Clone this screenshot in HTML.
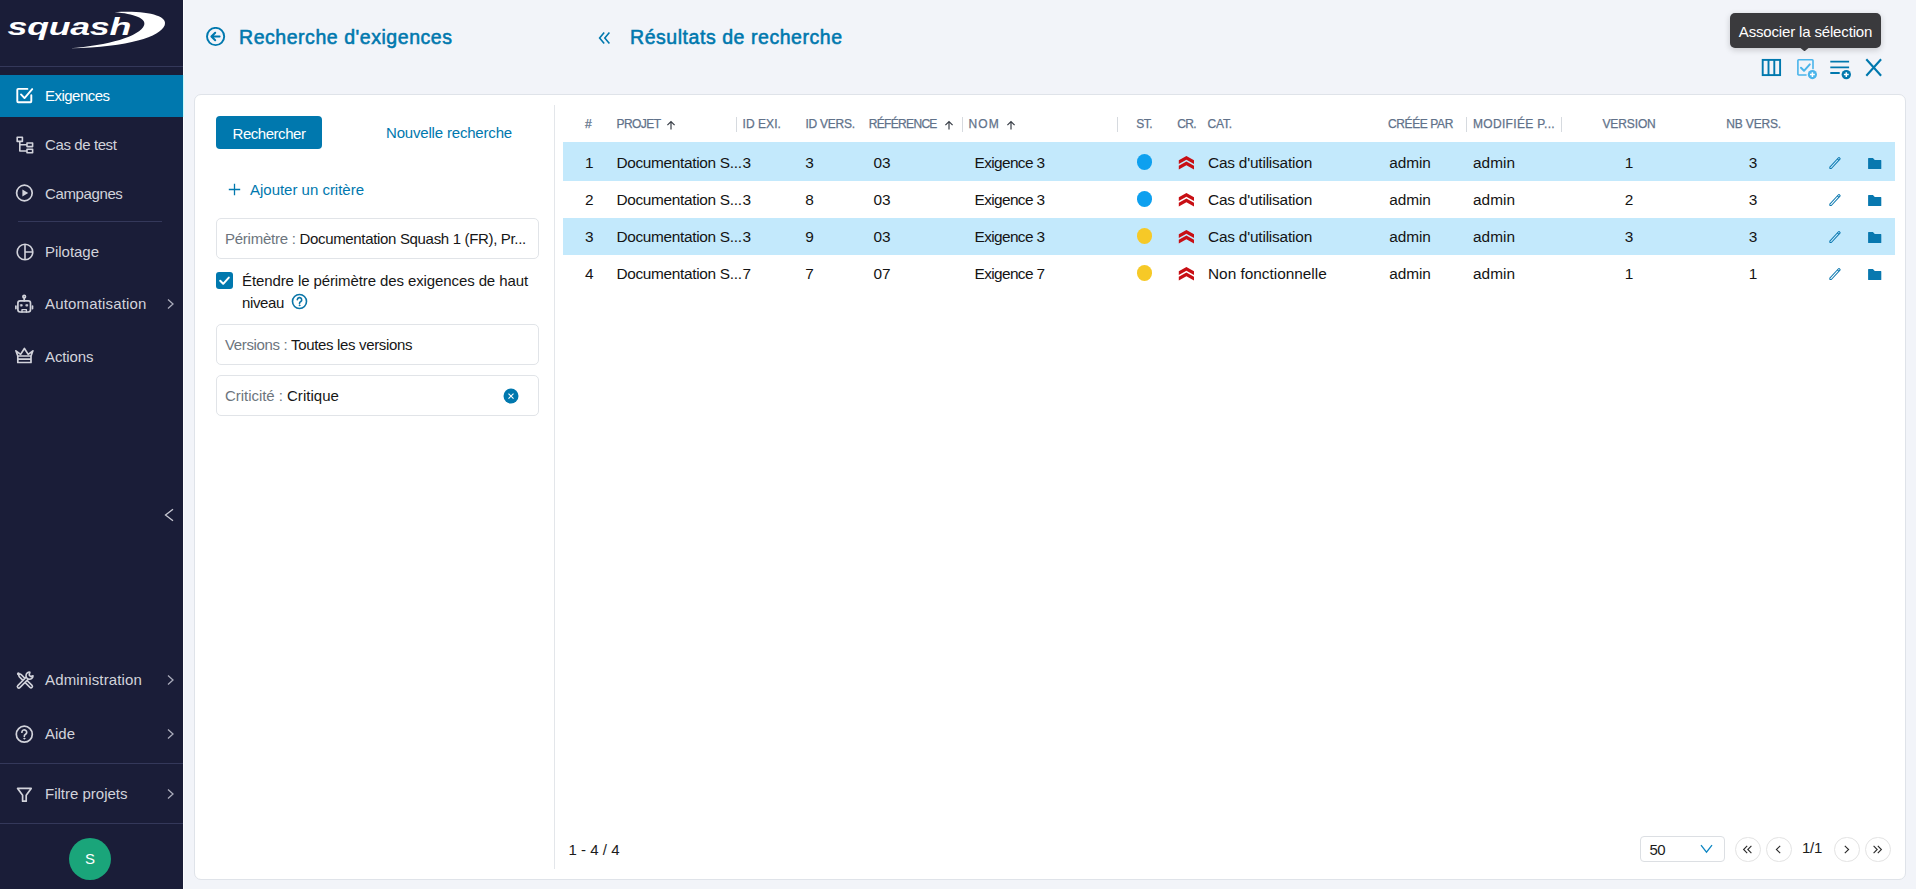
<!DOCTYPE html>
<html lang="fr">
<head>
<meta charset="utf-8">
<title>Squash - Recherche d'exigences</title>
<style>
*{box-sizing:border-box;margin:0;padding:0}
html,body{width:1916px;height:889px;overflow:hidden}
body{font-family:"Liberation Sans",sans-serif;font-size:14px;color:#161616;background:#f2f4f9;position:relative}
.abs{position:absolute}
svg{display:block}
/* ---------- sidebar ---------- */
#side{position:absolute;left:0;top:0;width:183px;height:889px;background:#1a1d38;color:#d2d3db}
#side .hr{position:absolute;height:1px;background:#34385a}
#side .item{position:absolute;left:0;width:183px;height:42px;font-size:15px;line-height:42px;white-space:nowrap}
#side .item.active{background:#0078ae;color:#fff}
#side .item .ic{position:absolute;left:15px;top:11px;width:20px;height:20px}
#side .item .lb{position:absolute;left:45px;top:0}
#side .item .ch{position:absolute;left:166px;top:15px;width:9px;height:12px}
#avatar{position:absolute;left:69px;top:838px;width:42px;height:42px;border-radius:50%;background:#1aa57a;color:#fff;font-size:15px;line-height:42px;text-align:center}
/* ---------- main ---------- */
.title{position:absolute;font-size:19.500px;font-weight:normal;-webkit-text-stroke:.55px #0078ae;color:#0078ae;white-space:nowrap;line-height:26px}
#card{position:absolute;left:194px;top:94px;width:1712px;height:786px;background:#fff;border:1px solid #dfe3e9;border-radius:7px}
#vsep{position:absolute;left:554px;top:105px;width:1px;height:764px;background:#e3e6ea}
.blue{color:#0078ae}
#btn{position:absolute;left:216px;top:116px;width:106px;height:33px;border-radius:4px;background:#0078ae;color:#fff;font-size:15px;line-height:33px;text-align:center}
.field{position:absolute;left:216px;width:323px;height:41px;border:1px solid #e1e4e8;border-radius:5px;background:#fff;line-height:39px;padding-left:8px;font-size:15px;white-space:nowrap;overflow:hidden}
.field .k{color:#6c757d}
.t{position:absolute;white-space:nowrap;line-height:20px}
/* ---------- table ---------- */
.row{position:absolute;left:563px;width:1332px}
.row.sel{background:#c3e9fc}
.th{position:absolute;top:114px;font-size:12px;line-height:20px;color:#61728a;-webkit-text-stroke:.25px #61728a;white-space:nowrap}
.td{position:absolute;font-size:15.400px;line-height:20px;white-space:nowrap;color:#141414}
.cs{position:absolute;top:116.500px;width:1px;height:15px;background:#d6dadf}
.dot{position:absolute;width:15.600px;height:15.600px;border-radius:50%}
/* ---------- footer ---------- */
.pg{position:absolute;top:836.500px;width:25.500px;height:25.500px;border:1px solid #e3e3e3;border-radius:50%;background:#fff}
/*FIT*/
#s0{letter-spacing:-0.524px}
#s1{letter-spacing:-0.398px}
#s2{letter-spacing:-0.377px}
#s3{letter-spacing:-0.027px}
#s4{letter-spacing:0.162px}
#s5{letter-spacing:-0.100px}
#s6{letter-spacing:0.140px}
#s7{letter-spacing:-0.008px}
#s8{letter-spacing:-0.002px}
#t1{letter-spacing:0.543px}
#bt{letter-spacing:-0.455px}
#nr{letter-spacing:-0.181px}
#aj{letter-spacing:-0.013px}
#cb1{letter-spacing:-0.100px}
#cb2{letter-spacing:-0.367px}
#f2{letter-spacing:-0.345px}
#f3{letter-spacing:0.039px}
#t2{letter-spacing:0.549px}
#k1{letter-spacing:-0.253px}
#f1{letter-spacing:-0.330px}
#k2{letter-spacing:-0.361px}
#k3{letter-spacing:-0.043px}
.c1{letter-spacing:-0.311px}
.c5{letter-spacing:-0.616px}
.c6{letter-spacing:-0.195px}
.c7{letter-spacing:-0.104px}
.c8{letter-spacing:0.016px}
#h1{letter-spacing:-0.574px}
#h2{letter-spacing:0.069px}
#h3{letter-spacing:-0.245px}
#h4{letter-spacing:-0.680px}
#h5{letter-spacing:1.167px}
#h6{letter-spacing:-0.448px}
#h7{letter-spacing:-0.657px}
#h8{letter-spacing:-0.181px}
#h9{letter-spacing:-0.385px}
#h10{letter-spacing:0.323px}
#h11{letter-spacing:-0.102px}
#h12{letter-spacing:-0.164px}
#cnt{letter-spacing:0.016px}
#ps{letter-spacing:-0.644px}
#pp{letter-spacing:-0.286px}
#tp{letter-spacing:-0.159px}
.c6.r3{letter-spacing:-0.014px}
/*ENDFIT*/
</style>
</head>
<body>
<div id="side">
  <svg class="abs" style="left:0;top:0" width="183" height="66" viewBox="0 0 183 66">
    <path d="M114.600 12.200C146 10.200 169 15.500 164.600 25.500C160 36.500 130 47 69.700 48.300C108 45.500 140 36.500 144.200 25C146.500 18.500 134 13.500 114.600 12.200Z" fill="#fff"/>
    <text x="0" y="0" transform="translate(7.600 34.900) scale(1.490 1)" font-family="'Liberation Sans',sans-serif" font-style="italic" font-weight="bold" font-size="24" fill="#fff" letter-spacing="-0.200">squash</text>
  </svg>
  <div class="hr" style="left:0;top:66px;width:183px"></div>

  <div class="item active" style="top:75px">
    <svg class="ic" viewBox="0 0 20 20" fill="none" stroke="#fff" stroke-width="1.900" stroke-linecap="round" stroke-linejoin="round"><path d="M12.400 2.900H3.200a.9.900 0 0 0-.9.900v11.500a.9.900 0 0 0 .9.900h12.200a.9.900 0 0 0 .9-.9V9.200"/><path d="M6 8.400l3.500 3.700 7.700-9"/></svg>
    <span class="lb" id="s0">Exigences</span>
  </div>
  <div class="item" style="top:124px">
    <svg class="ic" viewBox="0 0 20 20" fill="none" stroke="#d2d3db" stroke-width="1.6" stroke-linejoin="round"><rect x="2.2" y="2.2" width="5.2" height="4.2"/><rect x="12" y="8" width="5.6" height="3.6"/><rect x="12" y="14.2" width="5.6" height="3.6"/><path d="M4.8 6.4V16H12M4.8 9.8H12"/></svg>
    <span class="lb" id="s1">Cas de test</span>
  </div>
  <div class="item" style="top:173px">
    <svg class="ic" viewBox="0 0 20 20" fill="none" stroke="#d2d3db" stroke-width="1.700"><circle cx="9.400" cy="9" r="7.800"/><path d="M7.400 5.500v7l5.800-3.500z" fill="#d2d3db" stroke="none"/></svg>
    <span class="lb" id="s2">Campagnes</span>
  </div>
  <div class="hr" style="left:18px;top:221px;width:144px"></div>
  <div class="item" style="top:231px">
    <svg class="ic" viewBox="0 0 20 20" fill="none" stroke="#d2d3db" stroke-width="1.6"><circle cx="10" cy="10" r="7.8"/><path d="M10 2.2v15.6M10 10h7.8"/></svg>
    <span class="lb" id="s3">Pilotage</span>
  </div>
  <div class="item" style="top:282.500px">
    <svg class="ic" viewBox="0 0 20 20" fill="none" stroke="#d2d3db" stroke-width="1.700" stroke-linecap="round" stroke-linejoin="round"><circle cx="9.200" cy="2.700" r="1.300"/><path d="M9.200 4v2.800"/><rect x="2.900" y="6.800" width="12.600" height="11.200" rx="2.200"/><path d="M.9 12v2.600M17.500 12v2.600"/><rect x="5.700" y="10.600" width="1.500" height="1.500" fill="#d2d3db" stroke-width=".7"/><rect x="11.200" y="10.600" width="1.500" height="1.500" fill="#d2d3db" stroke-width=".7"/><path d="M7 18v-2.400h4.400V18" stroke-width="1.400"/></svg>
    <span class="lb" id="s4">Automatisation</span>
    <svg class="ch" viewBox="0 0 9 12" fill="none" stroke="#a9abba" stroke-width="1.3"><path d="M2 1.5l5 4.5-5 4.5"/></svg>
  </div>
  <div class="item" style="top:336px">
    <svg class="ic" viewBox="0 0 20 20" fill="none" stroke="#d2d3db" stroke-width="1.700" stroke-linejoin="round"><path d="M2.800 9L.9 3.800l4.700 3.600L9.400 1.500l3.800 5.900 4.700-3.600L16 9"/><path d="M2.800 9h13.200v6.500H2.800zM2.800 12.200h13.200"/></svg>
    <span class="lb" id="s5">Actions</span>
  </div>

  <svg class="abs" style="left:163px;top:508px" width="12" height="14" viewBox="0 0 12 14" fill="none" stroke="#c9cad4" stroke-width="1.3"><path d="M10 1.2L2.5 7l7.5 5.8"/></svg>

  <div class="item" style="top:658.500px">
    <svg class="ic" viewBox="0 0 20 20" fill="none" stroke-linecap="round" stroke-linejoin="round"><path d="M5.200 5.600L16 16.400" stroke="#d2d3db" stroke-width="4.400"/><path d="M5.200 5.600L16 16.400" stroke="#1a1d38" stroke-width="1.300"/><circle cx="3.400" cy="3.800" r="1.500" fill="#d2d3db"/><path d="M3.800 16.600L13 7.400" stroke="#d2d3db" stroke-width="4.400"/><path d="M3.800 16.600L12.600 7.800" stroke="#1a1d38" stroke-width="1.300"/><path d="M14.900 2.200a3.500 3.500 0 1 0 3.100 3.700l-2.500.6-1.300-1.500z" stroke="#d2d3db" stroke-width="1.600" fill="#1a1d38"/></svg>
    <span class="lb" id="s6">Administration</span>
    <svg class="ch" viewBox="0 0 9 12" fill="none" stroke="#a9abba" stroke-width="1.3"><path d="M2 1.500l5 4.500-5 4.500"/></svg>
  </div>
  <div class="item" style="top:712.500px">
    <svg class="ic" viewBox="0 0 20 20" fill="none" stroke="#d2d3db" stroke-width="1.700" stroke-linecap="round"><circle cx="9.300" cy="10.200" r="8"/><path d="M6.900 8.200a2.400 2.400 0 1 1 3.600 2.100c-.8.500-1.200.9-1.200 1.900"/><circle cx="9.300" cy="14.600" r=".6" fill="#d2d3db" stroke-width=".8"/></svg>
    <span class="lb" id="s7">Aide</span>
    <svg class="ch" viewBox="0 0 9 12" fill="none" stroke="#a9abba" stroke-width="1.3"><path d="M2 1.500l5 4.500-5 4.500"/></svg>
  </div>
  <div class="hr" style="left:0;top:763px;width:183px"></div>
  <div class="item" style="top:772.500px">
    <svg class="ic" viewBox="0 0 20 20" fill="none" stroke="#d2d3db" stroke-width="1.700" stroke-linejoin="round"><path d="M2.600 4.400h13.600l-5 6.800v6h-3.600v-6z"/></svg>
    <span class="lb" id="s8">Filtre projets</span>
    <svg class="ch" viewBox="0 0 9 12" fill="none" stroke="#a9abba" stroke-width="1.300"><path d="M2 1.500l5 4.500-5 4.500"/></svg>
  </div>
  <div class="hr" style="left:0;top:823px;width:183px"></div>
  <div id="avatar">S</div>
</div>
<div class="abs" id="strip" style="left:183px;top:0;width:1px;height:889px;background:#fcfdff"></div>
<div class="abs" style="left:183px;top:75px;width:1px;height:42px;background:#c9fbfb"></div>
<!-- header titles -->
<svg class="abs" style="left:205px;top:27px" width="21" height="21" viewBox="0 0 21 21" fill="none" stroke="#0078ae" stroke-width="1.900" stroke-linecap="round" stroke-linejoin="round"><circle cx="10.600" cy="9.500" r="8.600"/><path d="M14.600 9.500H6.800M10.200 5.700L6.400 9.500l3.800 3.800" stroke-width="2"/></svg>
<div class="title" id="t1" style="left:239px;top:24px">Recherche d'exigences</div>
<svg class="abs" style="left:598px;top:31px" width="13" height="14" viewBox="0 0 13 14" fill="none" stroke="#0078ae" stroke-width="1.600"><path d="M6.200 1.500L1.600 7l4.600 5.500M11.400 1.500L6.800 7l4.600 5.500"/></svg>
<div class="title" id="t2" style="left:630px;top:24px">Résultats de recherche</div>

<!-- tooltip -->
<div class="abs" id="tip" style="left:1730px;top:13px;width:151px;height:35px;border-radius:5px;background:#3a3a3d;color:#fff;font-size:15px;line-height:38px;text-align:center;white-space:nowrap;box-shadow:0 2px 6px rgba(0,0,0,.18)"><span id="tp">Associer la sélection</span></div>
<svg class="abs" style="left:1800px;top:48px" width="9" height="4" viewBox="0 0 9 4"><path d="M.5 0h8L5.200 2.700a1.100 1.100 0 0 1-1.400 0z" fill="#3a3a3d"/></svg>

<!-- toolbar icons -->
<svg class="abs" style="left:1761px;top:58px" width="21" height="20" viewBox="0 0 21 20" fill="none" stroke="#0078ae" stroke-width="1.900"><rect x="1.700" y="1.900" width="17.400" height="15.200"/><path d="M7.500 1.900v15.200M13.300 1.900v15.200"/></svg>
<svg class="abs" style="left:1796px;top:58px" width="23" height="23" viewBox="0 0 23 23" fill="none" stroke="#4ab4ea" stroke-width="1.600" stroke-linecap="round" stroke-linejoin="round"><path d="M10 17H2.700a.8.800 0 0 1-.8-.8V2.600a.8.800 0 0 1 .8-.8h13.500a.8.800 0 0 1 .8.800v8"/><path d="M5 9.800l3 3 5.800-6.400" stroke-width="2"/><circle cx="16.400" cy="16.600" r="4.600" fill="#4ab4ea" stroke="none"/><path d="M16.400 14.200v4.800M14 16.600h4.800" stroke="#fff" stroke-width="1.500" stroke-linecap="butt"/></svg>
<svg class="abs" style="left:1829px;top:58px" width="23" height="23" viewBox="0 0 23 23" fill="none" stroke="#0078ae" stroke-width="1.800"><path d="M1.300 3.700h18.800M1.300 9.300h18.800M1.300 15h9.400"/><circle cx="17.300" cy="16.600" r="4.700" fill="#0078ae" stroke="none"/><path d="M17.300 14.200v4.800M14.900 16.600h4.800" stroke="#fff" stroke-width="1.500"/></svg>
<svg class="abs" style="left:1864px;top:58px" width="20" height="20" viewBox="0 0 20 20" fill="none" stroke="#0078ae" stroke-width="2.100"><path d="M2.300 1.200l14.800 16.600M17.100 1.200L2.300 17.800"/></svg>

<div id="card"></div>
<div id="vsep"></div>

<!-- left panel -->
<div id="btn"><span id="bt" style="position:relative;top:1px">Rechercher</span></div>
<div class="t blue" id="nr" style="left:386px;top:123px;font-size:15px">Nouvelle recherche</div>
<svg class="abs" style="left:228px;top:183px" width="13" height="13" viewBox="0 0 13 13" stroke="#0078ae" stroke-width="1.300"><path d="M6.500 .800v11.400M.8 6.500h11.400"/></svg>
<div class="t blue" id="aj" style="left:250px;top:180px;font-size:15px">Ajouter un critère</div>
<div class="field" style="top:218px"><span class="k" id="k1">Périmètre : </span><span id="f1">Documentation Squash 1 (FR), Pr...</span></div>
<div class="abs" style="left:216px;top:272px;width:17px;height:17px;border-radius:3px;background:#0078ae"></div>
<svg class="abs" style="left:216px;top:272px" width="17" height="17" viewBox="0 0 17 17" fill="none" stroke="#fff" stroke-width="2" stroke-linecap="round" stroke-linejoin="round"><path d="M4.200 8.800l3 3 5.600-6.200"/></svg>
<div class="t" id="cb1" style="left:242px;top:271px;font-size:15px">Étendre le périmètre des exigences de haut</div>
<div class="t" id="cb2" style="left:242px;top:293px;font-size:15px">niveau</div>
<svg class="abs" style="left:291px;top:293.300px" width="17" height="17" viewBox="0 0 17 17" fill="none" stroke="#0a75a8" stroke-width="1.600" stroke-linecap="round"><circle cx="8.500" cy="8.500" r="7"/><path d="M6.300 6.800a2.200 2.200 0 1 1 3.300 1.900c-.7.450-1.100.9-1.100 1.700"/><circle cx="8.500" cy="12.300" r=".5" fill="#0078ae" stroke-width=".8"/></svg>
<div class="field" style="top:324px"><span class="k" id="k2">Versions : </span><span id="f2">Toutes les versions</span></div>
<div class="field" style="top:375px"><span class="k" id="k3">Criticité : </span><span id="f3">Critique</span></div>
<svg class="abs" style="left:503.400px;top:388.450px" width="16" height="16" viewBox="0 0 16 16"><circle cx="8" cy="8" r="7.500" fill="#0078ae"/><path d="M5.500 5.600l5 5M10.500 5.600l-5 5" stroke="#fff" stroke-width="1.100"/></svg>
<div class="row sel" style="top:142px;height:39px"></div>
<div class="row" style="top:181px;height:37px"></div>
<div class="row sel" style="top:218px;height:37px"></div>
<div class="row" style="top:255px;height:37px"></div>
<div class="th" id="h0" style="left:585px">#</div>
<div class="th" id="h1" style="left:616.5px">PROJET</div>
<div class="th" id="h2" style="left:742.5px">ID EXI.</div>
<div class="th" id="h3" style="left:805.5px">ID VERS.</div>
<div class="th" id="h4" style="left:868.8px">RÉFÉRENCE</div>
<div class="th" id="h5" style="left:968.5px">NOM</div>
<div class="th" id="h6" style="left:1136.2px">ST.</div>
<div class="th" id="h7" style="left:1177.3px">CR.</div>
<div class="th" id="h8" style="left:1207.6px">CAT.</div>
<div class="th" id="h9" style="left:1388px">CRÉÉE PAR</div>
<div class="th" id="h10" style="left:1473px">MODIFIÉE P...</div>
<div class="th" id="h11" style="left:1602.4px">VERSION</div>
<div class="th" id="h12" style="left:1726.3px">NB VERS.</div>
<svg class="abs" style="left:666px;top:119.500px" width="10" height="10" viewBox="0 0 10 10" fill="none" stroke="#3a3f48" stroke-width="1.200"><path d="M5 9.500V1.700M1.400 5.200L5 1.600l3.600 3.600"/></svg>
<svg class="abs" style="left:943.5px;top:119.500px" width="10" height="10" viewBox="0 0 10 10" fill="none" stroke="#3a3f48" stroke-width="1.200"><path d="M5 9.500V1.700M1.400 5.200L5 1.600l3.600 3.600"/></svg>
<svg class="abs" style="left:1006px;top:119.500px" width="10" height="10" viewBox="0 0 10 10" fill="none" stroke="#3a3f48" stroke-width="1.200"><path d="M5 9.500V1.700M1.400 5.200L5 1.600l3.600 3.600"/></svg>
<div class="cs" style="left:736px"></div>
<div class="cs" style="left:962px"></div>
<div class="cs" style="left:1117px"></div>
<div class="cs" style="left:1466px"></div>
<div class="cs" style="left:1561px"></div>
<div class="td c0" style="left:585px;top:153px">1</div>
<div class="td c1" style="left:616.4px;top:153px">Documentation S...</div>
<div class="td c2" style="left:742.5px;top:153px">3</div>
<div class="td c3" style="left:805.3px;top:153px">3</div>
<div class="td c4" style="left:873.5px;top:153px">03</div>
<div class="td c5" style="left:974.5px;top:153px">Exigence 3</div>
<div class="dot" style="left:1136.500px;top:154.3px;background:#0ea0ef"></div>
<svg class="abs" style="left:1178px;top:155.5px" width="17" height="14" viewBox="0 0 17 14"><path d="M8.400 0l7.600 4.300v3.700L8.400 3.700.8 8V4.300zM8.400 5.500l7.600 4.300v3.700L8.400 9.200.8 13.500V9.800z" fill="#c80f14"/></svg>
<div class="td c6 r0" style="left:1208px;top:153px">Cas d'utilisation</div>
<div class="td c7" style="left:1389.3px;top:153px">admin</div>
<div class="td c8" style="left:1473px;top:153px">admin</div>
<div class="td c9" style="left:1609px;width:40px;text-align:center;top:153px">1</div>
<div class="td c10" style="left:1733px;width:40px;text-align:center;top:153px">3</div>
<svg class="abs" style="left:1826.600px;top:154.85px" width="16" height="16" viewBox="0 0 16 16" fill="none" stroke="#0b78b0" stroke-width="1"><g transform="rotate(-47 8 8)"><path d="M1.500 6.950h12.700a.6.600 0 0 1 .6.600v.9a.6.600 0 0 1-.6.600H1.500L.5 8z" stroke-linejoin="round"/><path d="M12.600 6.950v2.100"/></g></svg>
<svg class="abs" style="left:1867.800px;top:157.9px" width="14" height="11" viewBox="0 0 14 11"><path d="M.1 .6a.5.500 0 0 1 .5-.5h4.300l1.900 2h6a.5.500 0 0 1 .5.500v7.800a.5.500 0 0 1-.5.500H.6a.5.500 0 0 1-.5-.5z" fill="#0878af"/></svg>
<div class="td c0" style="left:585px;top:190px">2</div>
<div class="td c1" style="left:616.4px;top:190px">Documentation S...</div>
<div class="td c2" style="left:742.5px;top:190px">3</div>
<div class="td c3" style="left:805.3px;top:190px">8</div>
<div class="td c4" style="left:873.5px;top:190px">03</div>
<div class="td c5" style="left:974.5px;top:190px">Exigence 3</div>
<div class="dot" style="left:1136.500px;top:191.3px;background:#0ea0ef"></div>
<svg class="abs" style="left:1178px;top:192.5px" width="17" height="14" viewBox="0 0 17 14"><path d="M8.400 0l7.600 4.300v3.700L8.400 3.700.8 8V4.300zM8.400 5.500l7.600 4.300v3.700L8.400 9.200.8 13.500V9.800z" fill="#c80f14"/></svg>
<div class="td c6 r1" style="left:1208px;top:190px">Cas d'utilisation</div>
<div class="td c7" style="left:1389.3px;top:190px">admin</div>
<div class="td c8" style="left:1473px;top:190px">admin</div>
<div class="td c9" style="left:1609px;width:40px;text-align:center;top:190px">2</div>
<div class="td c10" style="left:1733px;width:40px;text-align:center;top:190px">3</div>
<svg class="abs" style="left:1826.600px;top:191.85px" width="16" height="16" viewBox="0 0 16 16" fill="none" stroke="#0b78b0" stroke-width="1"><g transform="rotate(-47 8 8)"><path d="M1.500 6.950h12.700a.6.600 0 0 1 .6.600v.9a.6.600 0 0 1-.6.600H1.500L.5 8z" stroke-linejoin="round"/><path d="M12.600 6.950v2.100"/></g></svg>
<svg class="abs" style="left:1867.800px;top:194.9px" width="14" height="11" viewBox="0 0 14 11"><path d="M.1 .6a.5.500 0 0 1 .5-.5h4.300l1.900 2h6a.5.500 0 0 1 .5.500v7.800a.5.500 0 0 1-.5.500H.6a.5.500 0 0 1-.5-.5z" fill="#0878af"/></svg>
<div class="td c0" style="left:585px;top:227px">3</div>
<div class="td c1" style="left:616.4px;top:227px">Documentation S...</div>
<div class="td c2" style="left:742.5px;top:227px">3</div>
<div class="td c3" style="left:805.3px;top:227px">9</div>
<div class="td c4" style="left:873.5px;top:227px">03</div>
<div class="td c5" style="left:974.5px;top:227px">Exigence 3</div>
<div class="dot" style="left:1136.500px;top:228.3px;background:#f6c927"></div>
<svg class="abs" style="left:1178px;top:229.5px" width="17" height="14" viewBox="0 0 17 14"><path d="M8.400 0l7.600 4.300v3.700L8.400 3.700.8 8V4.300zM8.400 5.500l7.600 4.300v3.700L8.400 9.200.8 13.500V9.800z" fill="#c80f14"/></svg>
<div class="td c6 r2" style="left:1208px;top:227px">Cas d'utilisation</div>
<div class="td c7" style="left:1389.3px;top:227px">admin</div>
<div class="td c8" style="left:1473px;top:227px">admin</div>
<div class="td c9" style="left:1609px;width:40px;text-align:center;top:227px">3</div>
<div class="td c10" style="left:1733px;width:40px;text-align:center;top:227px">3</div>
<svg class="abs" style="left:1826.600px;top:228.85px" width="16" height="16" viewBox="0 0 16 16" fill="none" stroke="#0b78b0" stroke-width="1"><g transform="rotate(-47 8 8)"><path d="M1.500 6.950h12.700a.6.600 0 0 1 .6.600v.9a.6.600 0 0 1-.6.600H1.500L.5 8z" stroke-linejoin="round"/><path d="M12.600 6.950v2.100"/></g></svg>
<svg class="abs" style="left:1867.800px;top:231.9px" width="14" height="11" viewBox="0 0 14 11"><path d="M.1 .6a.5.500 0 0 1 .5-.5h4.300l1.900 2h6a.5.500 0 0 1 .5.500v7.800a.5.500 0 0 1-.5.500H.6a.5.500 0 0 1-.5-.5z" fill="#0878af"/></svg>
<div class="td c0" style="left:585px;top:264px">4</div>
<div class="td c1" style="left:616.4px;top:264px">Documentation S...</div>
<div class="td c2" style="left:742.5px;top:264px">7</div>
<div class="td c3" style="left:805.3px;top:264px">7</div>
<div class="td c4" style="left:873.5px;top:264px">07</div>
<div class="td c5" style="left:974.5px;top:264px">Exigence 7</div>
<div class="dot" style="left:1136.500px;top:265.3px;background:#f6c927"></div>
<svg class="abs" style="left:1178px;top:266.5px" width="17" height="14" viewBox="0 0 17 14"><path d="M8.400 0l7.600 4.300v3.700L8.400 3.700.8 8V4.300zM8.400 5.500l7.600 4.300v3.700L8.400 9.200.8 13.500V9.800z" fill="#c80f14"/></svg>
<div class="td c6 r3" style="left:1208px;top:264px">Non fonctionnelle</div>
<div class="td c7" style="left:1389.3px;top:264px">admin</div>
<div class="td c8" style="left:1473px;top:264px">admin</div>
<div class="td c9" style="left:1609px;width:40px;text-align:center;top:264px">1</div>
<div class="td c10" style="left:1733px;width:40px;text-align:center;top:264px">1</div>
<svg class="abs" style="left:1826.600px;top:265.85px" width="16" height="16" viewBox="0 0 16 16" fill="none" stroke="#0b78b0" stroke-width="1"><g transform="rotate(-47 8 8)"><path d="M1.500 6.950h12.700a.6.600 0 0 1 .6.600v.9a.6.600 0 0 1-.6.600H1.500L.5 8z" stroke-linejoin="round"/><path d="M12.600 6.950v2.100"/></g></svg>
<svg class="abs" style="left:1867.800px;top:268.9px" width="14" height="11" viewBox="0 0 14 11"><path d="M.1 .6a.5.500 0 0 1 .5-.5h4.300l1.900 2h6a.5.500 0 0 1 .5.500v7.800a.5.500 0 0 1-.5.500H.6a.5.500 0 0 1-.5-.5z" fill="#0878af"/></svg>
<div class="t" id="cnt" style="left:568.500px;top:840px;font-size:15px;color:#1c1c1c">1 - 4 / 4</div>
<div class="abs" style="left:1640px;top:836px;width:85px;height:26px;border:1px solid #dcdfe3;border-radius:4px;background:#fff"></div>
<div class="t" id="ps" style="left:1649.500px;top:840px;font-size:15px;color:#1c1c1c">50</div>
<svg class="abs" style="left:1700px;top:844px" width="13" height="10" viewBox="0 0 13 10" fill="none" stroke="#0d86c3" stroke-width="1.300"><path d="M1 1.200l5.500 7 5.500-7"/></svg>
<div class="pg" style="left:1735px"></div>
<svg class="abs" style="left:1741px;top:843px" width="13" height="13" viewBox="0 0 13 13" fill="none" stroke="#2a2a2a" stroke-width="1.100"><path d="M6.200 2.800L2.600 6.500l3.600 3.700M10.400 2.800L6.800 6.500l3.600 3.700"/></svg>
<div class="pg" style="left:1766px"></div>
<svg class="abs" style="left:1772px;top:843px" width="13" height="13" viewBox="0 0 13 13" fill="none" stroke="#2a2a2a" stroke-width="1.100"><path d="M8.200 2.800L4.400 6.500l3.800 3.700"/></svg>
<div class="pg" style="left:1834px"></div>
<svg class="abs" style="left:1840px;top:843px" width="13" height="13" viewBox="0 0 13 13" fill="none" stroke="#2a2a2a" stroke-width="1.100"><path d="M4.800 2.800l3.800 3.700-3.800 3.700"/></svg>
<div class="pg" style="left:1865px"></div>
<svg class="abs" style="left:1871px;top:843px" width="13" height="13" viewBox="0 0 13 13" fill="none" stroke="#2a2a2a" stroke-width="1.100"><path d="M2.600 2.800l3.600 3.700-3.600 3.700M6.800 2.800l3.600 3.700-3.600 3.700"/></svg>
<div class="t" id="pp" style="left:1802px;top:838px;font-size:15px;color:#1c1c1c">1/1</div>
</body>
</html>
